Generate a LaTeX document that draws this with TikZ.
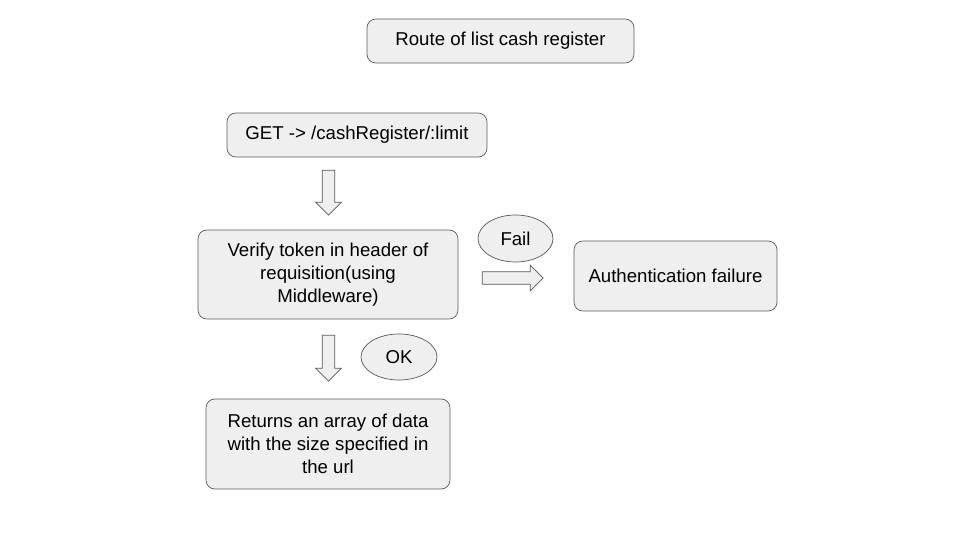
\documentclass[tikz,border=0pt]{standalone}
\usepackage{fontspec}
\setmainfont{Liberation Sans}
\usetikzlibrary{shapes.geometric,shapes.arrows,positioning}
\definecolor{boxfill}{HTML}{EFEFEF}
\definecolor{boxline}{HTML}{595959}
\tikzset{
  rbox/.style={draw=boxline,fill=boxfill,rounded corners=5pt,align=center,
               font=\fontsize{10.6}{13}\selectfont,inner sep=0pt},
  oval/.style={ellipse,draw=boxline,fill=boxfill,inner sep=0pt,
               font=\fontsize{10.6}{13}\selectfont},
  barr/.style={single arrow,draw=boxline,fill=boxfill,inner sep=3.4pt,
               single arrow head extend=3.7pt,minimum width=14.2pt},
}
\begin{document}
\begin{tikzpicture}[x=0.02cm,y=-0.02cm]
\useasboundingbox (0,0) rectangle (960,540);
% boxes
\node[rbox,minimum width=5.34cm,minimum height=0.88cm] (title) at (500.5,41) {Route of list cash register};
\node[rbox,minimum width=5.2cm,minimum height=0.88cm] (get) at (357,135) {GET -> /cashRegister/:limit};
\node[rbox,minimum width=5.2cm,minimum height=1.78cm] (verify) at (328,274.5)
  {Verify token in header of\\requisition(using\\Middleware)};
\node[rbox,minimum width=4.06cm,minimum height=1.4cm] (authfail) at (675.5,276) {Authentication failure};
\node[rbox,minimum width=4.88cm,minimum height=1.8cm] (returns) at (328,444)
  {Returns an array of data\\with the size specified in\\the url};
% labels
\node[oval,minimum width=1.5cm,minimum height=0.94cm] (fail) at (515.5,238.5) {Fail};
\node[oval,minimum width=1.52cm,minimum height=0.92cm] (ok) at (399,357) {OK};
% block arrows
\node[barr,rotate=-90,minimum height=0.9cm] (down1) at (328.5,189.5) {};
\node[barr,rotate=-90,minimum height=0.92cm] (down2) at (328.5,355) {};
\node[barr,minimum height=1.22cm] (right1) at (509.5,278) {};
\end{tikzpicture}
\end{document}
